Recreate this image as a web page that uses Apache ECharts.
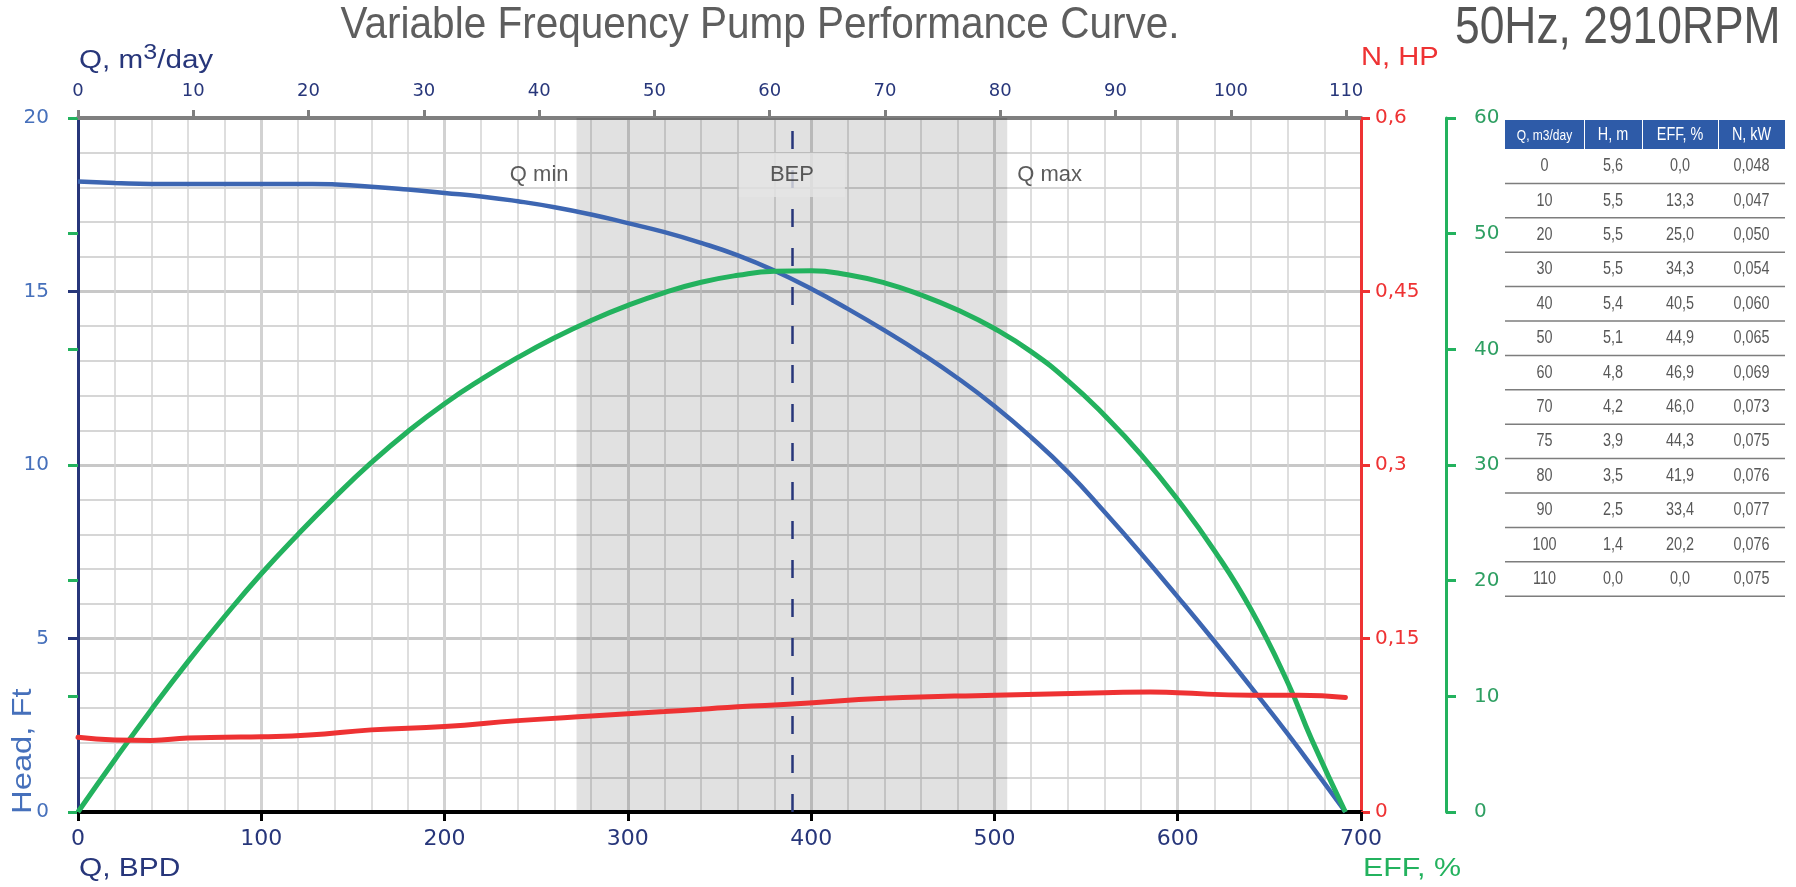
<!DOCTYPE html>
<html>
<head>
<meta charset="utf-8">
<script src="https://cdn.jsdelivr.net/npm/echarts@6/dist/echarts.min.js"></script>
<style>
html,body{margin:0;padding:0;background:#ffffff;}
#chart{width:1796px;height:887px;}
</style>
</head>
<body>
<div id="chart"></div>
<script>
// ---------------- DATA ----------------
const titleText = 'Variable Frequency Pump Performance Curve.';
const subTitleText = '50Hz, 2910RPM';

// bottom axis: Q in barrels per day; top axis: Q in m3/day (1 m3 = 6.2898 bbl)
const bpdMax = 700;
const bpdPerM3 = 6.2898;
const qM3Ticks = [0, 10, 20, 30, 40, 50, 60, 70, 80, 90, 100, 110];

// Head curve (BPD -> ft)
const headQ  = [0, 20, 40, 60, 80, 100, 128, 160, 180, 200, 220, 240, 260, 280, 300, 320, 340, 360, 380, 400, 420, 440, 460, 480, 500, 520, 540, 560, 580, 600, 620, 640, 660, 680, 691.5];
const headFt = [18.17, 18.13, 18.1, 18.1, 18.1, 18.1, 18.1, 18.02, 17.94, 17.84, 17.74, 17.6, 17.43, 17.22, 16.97, 16.71, 16.4, 16.04, 15.6, 15.08, 14.5, 13.88, 13.22, 12.5, 11.7, 10.8, 9.8, 8.65, 7.45, 6.2, 4.92, 3.6, 2.25, 0.83, 0];

// Efficiency curve (BPD -> %)
const effQ   = [0, 20, 40, 60, 80, 100, 120, 140, 160, 180, 200, 220, 240, 260, 280, 300, 320, 340, 360, 380, 400, 420, 440, 460, 480, 500, 520, 540, 560, 580, 600, 620, 640, 660, 673, 691.5];
const effPct = [0, 4.5, 8.85, 13.0, 16.9, 20.6, 24.0, 27.2, 30.2, 32.9, 35.3, 37.4, 39.3, 41.0, 42.5, 43.8, 44.9, 45.8, 46.4, 46.75, 46.8, 46.45, 45.75, 44.7, 43.4, 41.8, 39.8, 37.3, 34.3, 30.9, 27.0, 22.6, 17.5, 11.2, 6.3, 0];

// Power curve (BPD -> HP)
const powQ   = [0, 20, 40, 60, 80, 100, 126, 160, 200, 240, 280, 320, 340, 360, 390, 440, 500, 560, 585, 600, 640, 666, 691.5];
const powHp  = [0.0646, 0.0623, 0.0619, 0.064, 0.0646, 0.065, 0.0665, 0.071, 0.0739, 0.079, 0.083, 0.0868, 0.0888, 0.091, 0.0933, 0.0983, 0.101, 0.103, 0.1038, 0.103, 0.101, 0.101, 0.099];

// operating range and BEP (BPD)
const qMinBpd = 272;
const qMaxBpd = 507;
const bepBpd  = 389.5;
const annotationLabels = ['Q min', 'BEP', 'Q max'];

// table
const tableHeader = ['Q, m3/day', 'H, m', 'EFF, %', 'N, kW'];
const tableQ   = [0, 10, 20, 30, 40, 50, 60, 70, 75, 80, 90, 100, 110];
const tableH   = [5.6, 5.5, 5.5, 5.5, 5.4, 5.1, 4.8, 4.2, 3.9, 3.5, 2.5, 1.4, 0.0];
const tableEff = [0.0, 13.3, 25.0, 34.3, 40.5, 44.9, 46.9, 46.0, 44.3, 41.9, 33.4, 20.2, 0.0];
const tableN   = [0.048, 0.047, 0.050, 0.054, 0.060, 0.065, 0.069, 0.073, 0.075, 0.076, 0.077, 0.076, 0.075];

// ---------------- STYLE ----------------
const NAVY = '#27367a';
const BLUE_LABEL = '#4670bb';
const BLUE = '#3d66b2';
const RED = '#ee3233';
const GREEN = '#23b25e';
const GREEN_LABEL = '#2e9f62';
const SANS = "'Liberation Sans', Arial, sans-serif";
const DEJAVU = "'DejaVu Sans', sans-serif";

const zip = (a, b) => a.map((v, i) => [v, b[i]]);
const comma = (v, d) => v.toFixed(d).replace('.', ',');

// ---------------- TABLE GRAPHICS ----------------
const colX = [1505, 1584, 1642, 1718, 1785];
const headTop = 120, headH = 29, rowTop = 149, rowH = 34.4;
const g = [];
for (let c = 0; c < 4; c++) {
  g.push({type: 'rect', shape: {x: colX[c] + (c ? 1 : 0), y: headTop, width: colX[c + 1] - colX[c] - (c ? 1 : 0), height: headH},
          style: {fill: '#2e5ba8'}});
  g.push({type: 'text', x: (colX[c] + colX[c + 1]) / 2, y: headTop + headH / 2 + 1, scaleX: 0.8,
          style: {text: tableHeader[c], fill: '#ffffff', fontSize: c === 0 ? 15 : 18, fontFamily: SANS,
                  align: 'center', verticalAlign: 'middle'}});
}
for (let r = 0; r < tableQ.length; r++) {
  const cells = [String(tableQ[r]), comma(tableH[r], 1), comma(tableEff[r], 1), comma(tableN[r], 3)];
  const cy = rowTop + rowH * r + rowH / 2;
  for (let c = 0; c < 4; c++) {
    g.push({type: 'text', x: (colX[c] + colX[c + 1]) / 2, y: cy, scaleX: 0.8,
            style: {text: cells[c], fill: '#585858', fontSize: 18, fontFamily: SANS, align: 'center', verticalAlign: 'middle'}});
  }
  const ly = rowTop + rowH * (r + 1);
  g.push({type: 'line', shape: {x1: colX[0], y1: ly, x2: colX[4], y2: ly}, style: {stroke: '#7d7d7d', lineWidth: 1.5}});
}

// titles and axis names
g.push({type: 'text', x: 760, y: 26, scaleX: 0.9, style: {text: titleText, fill: '#5e5e5e', fontSize: 45, fontFamily: SANS, align: 'center', verticalAlign: 'middle'}});
g.push({type: 'text', x: 1455, y: 29, scaleX: 0.87, style: {text: subTitleText, fill: '#555555', fontSize: 51, fontFamily: SANS, align: 'left', verticalAlign: 'middle'}});
g.push({type: 'text', x: 79, y: 58, scaleX: 1.14, style: {text: '{a|Q, m}{s|3}{a|/day}', align: 'left', verticalAlign: 'middle',
        rich: {a: {fontSize: 26, fontFamily: SANS, fill: NAVY, color: NAVY, lineHeight: 32, verticalAlign: 'bottom'},
               s: {fontSize: 22, fontFamily: SANS, fill: NAVY, color: NAVY, lineHeight: 32, verticalAlign: 'top'}}}});
g.push({type: 'text', x: 1361, y: 58, scaleX: 1.12, style: {text: 'N, HP', fill: RED, fontSize: 26, fontFamily: SANS, align: 'left', verticalAlign: 'middle'}});
g.push({type: 'text', x: 79, y: 869, scaleX: 1.15, style: {text: 'Q, BPD', fill: NAVY, fontSize: 26, fontFamily: SANS, align: 'left', verticalAlign: 'middle'}});
g.push({type: 'text', x: 1363, y: 869, scaleX: 1.17, style: {text: 'EFF, %', fill: GREEN, fontSize: 26, fontFamily: SANS, align: 'left', verticalAlign: 'middle'}});
g.push({type: 'text', x: 23, y: 814, rotation: Math.PI / 2, scaleX: 1.17, style: {text: 'Head, Ft', fill: BLUE_LABEL, fontSize: 28, fontFamily: SANS, align: 'left', verticalAlign: 'middle'}});

// ---------------- CHART ----------------
const labelY = 18.36;
const chart = echarts.init(document.getElementById('chart'), null, {renderer: 'canvas'});
chart.setOption({
  animation: false,
  backgroundColor: '#ffffff',
  grid: {left: 78, right: 435, top: 118, bottom: 75, containLabel: false, outerBoundsMode: 'none'},
  xAxis: [
    {type: 'value', position: 'bottom', min: 0, max: bpdMax, interval: 100,
     axisLine: {show: true, onZero: false, lineStyle: {color: '#000000', width: 4}},
     axisTick: {show: true, length: 9, lineStyle: {color: '#000000', width: 3}},
     axisLabel: {color: NAVY, fontSize: 22, fontFamily: DEJAVU, margin: 16},
     splitLine: {show: true, lineStyle: {color: '#d2d2d2', width: 3}},
     minorTick: {show: false, splitNumber: 5},
     minorSplitLine: {show: true, lineStyle: {color: '#d4d4d4', width: 1.5}}},
    {type: 'value', position: 'top', min: 0, max: bpdMax / bpdPerM3,
     axisLine: {show: true, onZero: false, lineStyle: {color: '#7f7f7f', width: 4}},
     axisTick: {show: true, length: 8, customValues: qM3Ticks, lineStyle: {color: '#7f7f7f', width: 3}},
     axisLabel: {color: NAVY, fontSize: 18, fontFamily: DEJAVU, margin: 18, customValues: qM3Ticks},
     splitLine: {show: false}}
  ],
  yAxis: [
    {type: 'value', position: 'left', min: 0, max: 20, interval: 5,
     axisLine: {show: true, onZero: false, lineStyle: {color: NAVY, width: 3}},
     axisTick: {show: true, length: 10, lineStyle: {color: NAVY, width: 3}},
     axisLabel: {color: BLUE_LABEL, fontSize: 20, fontFamily: DEJAVU, margin: 29},
     splitLine: {show: true, lineStyle: {color: '#c8c8c8', width: 3}},
     minorTick: {show: false, splitNumber: 5},
     minorSplitLine: {show: true, lineStyle: {color: '#d6d6d6', width: 2}}},
    {type: 'value', position: 'right', offset: 0, min: 0, max: 0.6, interval: 0.15,
     axisLine: {show: true, onZero: false, lineStyle: {color: RED, width: 3}},
     axisTick: {show: true, length: 9, lineStyle: {color: RED, width: 3}},
     axisLabel: {color: RED, fontSize: 20, fontFamily: DEJAVU, margin: 14,
                 formatter: v => String(+v.toFixed(2)).replace('.', ',')},
     splitLine: {show: false}},
    {type: 'value', position: 'right', offset: 85, min: 0, max: 60, interval: 10,
     axisLine: {show: true, onZero: false, lineStyle: {color: GREEN, width: 3}},
     axisTick: {show: true, length: 10, lineStyle: {color: GREEN, width: 3}},
     axisLabel: {color: GREEN_LABEL, fontSize: 20, fontFamily: DEJAVU, margin: 28},
     splitLine: {show: false}},
    {type: 'value', position: 'right', offset: 85, min: 0, max: 60, interval: 10,
     axisLine: {show: false},
     axisTick: {show: true, inside: true, length: 10, lineStyle: {color: GREEN, width: 3}},
     axisLabel: {show: false},
     splitLine: {show: false}}
  ],
  graphic: g,
  series: [
    {type: 'line', name: 'range', xAxisIndex: 0, yAxisIndex: 0, data: [], z: 1, silent: true,
     markArea: {silent: true, itemStyle: {color: 'rgba(0,0,0,0.118)'},
                data: [[{xAxis: qMinBpd}, {xAxis: qMaxBpd}]]}},
    {type: 'line', name: 'Head', xAxisIndex: 0, yAxisIndex: 0, data: zip(headQ, headFt),
     showSymbol: false, smooth: 0.5, z: 3, lineStyle: {color: BLUE, width: 4.5}, itemStyle: {color: BLUE}},
    {type: 'line', name: 'EFF', xAxisIndex: 0, yAxisIndex: 2, data: zip(effQ, effPct),
     showSymbol: false, smooth: 0.5, z: 3, lineStyle: {color: GREEN, width: 5}, itemStyle: {color: GREEN}},
    {type: 'line', name: 'N', xAxisIndex: 0, yAxisIndex: 1, data: zip(powQ, powHp),
     showSymbol: false, smooth: 0.5, z: 3, lineStyle: {color: RED, width: 5, cap: 'round'}, itemStyle: {color: RED}},
    {type: 'line', name: 'bep', xAxisIndex: 0, yAxisIndex: 0, data: [], z: 4, silent: true,
     markLine: {silent: true, symbol: ['none', 'none'], label: {show: false},
                lineStyle: {color: NAVY, width: 2.5, type: [18, 21]},
                data: [{xAxis: bepBpd}]}},
    {type: 'scatter', name: 'labels', xAxisIndex: 0, yAxisIndex: 0, symbolSize: 0, z: 6, silent: true,
     data: [
       {value: [qMinBpd, labelY], label: {show: true, position: 'left', distance: 8, formatter: annotationLabels[0]}},
       {value: [bepBpd, labelY], label: {show: true, position: 'inside', formatter: annotationLabels[1],
         backgroundColor: '#e5e5e5', padding: [11, 31, 11, 31]}},
       {value: [qMaxBpd, labelY], label: {show: true, position: 'right', distance: 10, formatter: annotationLabels[2]}}
     ],
     label: {color: '#333333', fontSize: 22, fontFamily: SANS}}
  ]
});
</script>
</body>
</html>
